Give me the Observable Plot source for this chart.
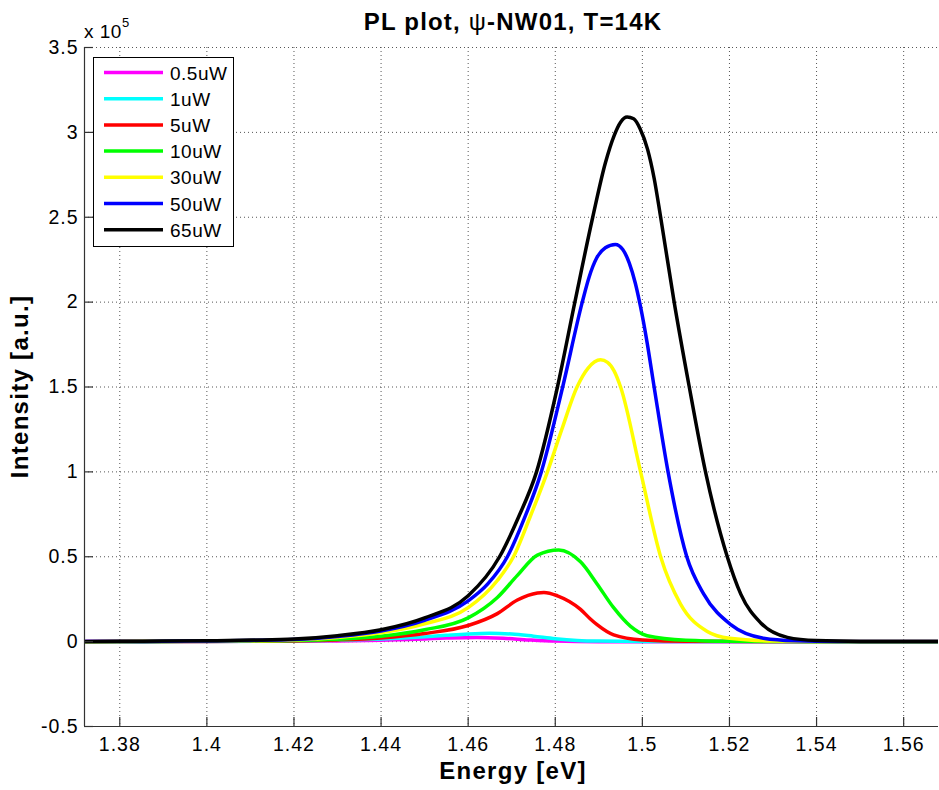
<!DOCTYPE html>
<html><head><meta charset="utf-8">
<script src="https://cdn.jsdelivr.net/npm/d3@7"></script>
<script src="https://cdn.jsdelivr.net/npm/@observablehq/plot@0.6"></script>
<style>
body{margin:0;background:#fff;}
#chart{position:relative;width:939px;height:790px;}
#chart svg text{font-family:"Liberation Sans",Arial,sans-serif;}
#chart g[aria-label="x-axis tick label"] text, #chart g[aria-label="y-axis tick label"] text{letter-spacing:1px;}
</style>
</head><body><div id="chart"></div>
<script>
// ---- data (intensity in units of 1e5 a.u.) ----
const seriesNames  = ["0.5uW","1uW","5uW","10uW","30uW","50uW","65uW"];
const seriesColors = ["#ff00ff","#00ffff","#ff0000","#00ff00","#ffff00","#0000ff","#000000"];

const E_0p5 = [1.372,1.42,1.43,1.44,1.45,1.455,1.462,1.468,1.474,1.48,1.49,1.568];
const I_0p5 = [0,0.002,0.004,0.008,0.016,0.021,0.025,0.02,0.01,0.003,0.0,0];

const E_1 = [1.372,1.40,1.42,1.43,1.44,1.45,1.455,1.46,1.465,1.47,1.475,1.48,1.485,1.49,1.50,1.568];
const I_1 = [0,0.001,0.004,0.008,0.015,0.028,0.037,0.045,0.049,0.045,0.032,0.017,0.007,0.003,0.001,0];

const E_5 = [1.372,1.40,1.41,1.42,1.43,1.44,1.45,1.46,1.4667,1.4713,1.4759,1.4774,1.4805,1.4858,1.488,1.4896,1.4934,1.50,1.51,1.568];
const I_5 = [0,0.001,0.002,0.004,0.01,0.022,0.048,0.095,0.165,0.245,0.287,0.29,0.27,0.19,0.135,0.10,0.04,0.01,0.002,0];

const E_10 = [1.372,1.39,1.40,1.41,1.42,1.43,1.44,1.45,1.46,1.4667,1.4713,1.4759,1.4808,1.4858,1.4896,1.4934,1.4973,1.5011,1.51,1.52,1.54,1.568];
const I_10 = [0,0.001,0.002,0.003,0.006,0.014,0.032,0.07,0.14,0.26,0.39,0.51,0.54,0.47,0.34,0.20,0.09,0.035,0.008,0.002,0,0];

const E_30 = [1.372,1.38,1.39,1.40,1.41,1.42,1.43,1.44,1.45,1.46,1.4667,1.4704,1.4743,1.4782,1.4815,1.485,1.4875,1.4904,1.492,1.4935,1.495,1.4996,1.5042,1.5088,1.5149,1.52,1.53,1.545,1.568];
const I_30 = [0,0.001,0.002,0.003,0.005,0.01,0.025,0.052,0.105,0.20,0.36,0.50,0.74,1.0,1.25,1.50,1.61,1.66,1.645,1.595,1.50,1.0,0.5,0.22,0.06,0.02,0.004,0.001,0];

const E_50 = [1.372,1.38,1.39,1.40,1.41,1.42,1.43,1.44,1.45,1.46,1.4645,1.469,1.4728,1.4768,1.4817,1.4862,1.4878,1.4895,1.4915,1.4938,1.4955,1.497,1.4984,1.4996,1.5011,1.5027,1.5059,1.5102,1.5141,1.5203,1.5278,1.535,1.545,1.568];
const I_50 = [0.001,0.001,0.002,0.004,0.007,0.012,0.03,0.062,0.125,0.24,0.34,0.50,0.72,1.0,1.5,2.0,2.15,2.26,2.32,2.34,2.31,2.23,2.11,1.97,1.76,1.5,1.0,0.5,0.28,0.10,0.02,0.005,0.001,0];

const E_65 = [1.372,1.38,1.39,1.40,1.41,1.42,1.43,1.44,1.45,1.46,1.4672,1.4715,1.4757,1.4805,1.4845,1.4886,1.4915,1.4935,1.495,1.4965,1.498,1.4995,1.5012,1.5027,1.5042,1.5073,1.5107,1.5145,1.5195,1.5226,1.5272,1.5333,1.54,1.55,1.568];
const I_65 = [0.001,0.002,0.003,0.005,0.009,0.015,0.035,0.07,0.14,0.27,0.50,0.73,1.0,1.5,2.0,2.5,2.82,2.98,3.06,3.09,3.08,3.02,2.90,2.73,2.5,2.0,1.51,1.0,0.5,0.28,0.11,0.025,0.006,0.001,0];

const seriesE = [E_0p5,E_1,E_5,E_10,E_30,E_50,E_65];
const seriesI = [I_0p5,I_1,I_5,I_10,I_30,I_50,I_65];

const xTicks = [1.38,1.40,1.42,1.44,1.46,1.48,1.50,1.52,1.54,1.56];
const yTicks = [-0.5,0,0.5,1,1.5,2,2.5,3,3.5];
const xDomain = [1.3719,1.568];
const yDomain = [-0.5,3.5];

// ---- layout ----
const W = 939, H = 790, mL = 84, mR = 1, mT = 47, mB = 64;
const pW = W - mL - mR, pH = H - mT - mB;
const FONT = '"Liberation Sans", Arial, sans-serif';

const rows = [];
seriesNames.forEach((name, k) => {
  seriesE[k].forEach((e, i) => rows.push({series: name, k, E: e, I: seriesI[k][i]}));
});

const lineMarks = seriesNames.map((name, k) =>
  Plot.line(rows.filter(d => d.k === k), {
    x: "E", y: "I", stroke: seriesColors[k], strokeWidth: 3.5,
    curve: "monotone-x", clip: true
  })
);

const gridStyle = {stroke: "#555", strokeOpacity: 1, strokeWidth: 1, strokeDasharray: "1,3"};

const svg = Plot.plot({
  width: W, height: H,
  marginLeft: mL, marginRight: mR, marginTop: mT, marginBottom: mB,
  style: {fontFamily: FONT, fontSize: "19px", background: "#fff", color: "#000", overflow: "visible"},
  x: {domain: xDomain},
  y: {domain: yDomain},
  marks: [
    Plot.gridX(xTicks, gridStyle),
    Plot.gridY(yTicks, gridStyle),
    ...lineMarks,
    Plot.ruleX([xDomain[0]], {stroke: "#333", strokeWidth: 1.2}),
    Plot.ruleY([yDomain[0]], {stroke: "#333", strokeWidth: 1.2}),
    Plot.tickX(xTicks, {x: d => d, insetTop: pH - 9, stroke: "#333", strokeWidth: 1.2}),
    Plot.tickY(yTicks, {y: d => d, insetRight: pW - 9, stroke: "#333", strokeWidth: 1.2}),
    Plot.axisX(xTicks, {tickSize: 0, tickPadding: 11, tickFormat: d => String(d), fontSize: 19.5, label: null}),
    Plot.axisY(yTicks, {tickSize: 0, tickPadding: 6, tickFormat: d => String(d), fontSize: 19.5, label: null})
  ]
});

document.getElementById("chart").appendChild(svg);

const s = d3.select(svg);
// title
const t = s.append("text").attr("x", 513).attr("y", 30).attr("text-anchor", "middle")
  .attr("font-size", 24).attr("font-weight", "bold").attr("letter-spacing", "1.2px").attr("fill", "#000");
t.append("tspan").text("PL plot, ");
t.append("tspan").attr("font-weight", "normal").text("ψ");
t.append("tspan").text("-NW01, T=14K");

// exponent
const ex = s.append("text").attr("x", 84).attr("y", 38).attr("text-anchor", "start")
  .attr("font-size", 19).attr("fill", "#000").attr("letter-spacing", "0.5px");
ex.append("tspan").text("x 10");
ex.append("tspan").attr("font-size", 13).attr("dy", -11).text("5");

// axis labels
s.append("text").attr("x", 513).attr("y", 779).attr("text-anchor", "middle")
  .attr("font-size", 24).attr("font-weight", "bold").attr("letter-spacing", "1.3px").attr("fill", "#000")
  .text("Energy [eV]");
s.append("text").attr("transform", "translate(28,386.5) rotate(-90)").attr("text-anchor", "middle")
  .attr("font-size", 24).attr("font-weight", "bold").attr("letter-spacing", "1.3px").attr("fill", "#000")
  .text("Intensity [a.u.]");

// legend
const lg = s.append("g");
lg.append("rect").attr("x", 93.5).attr("y", 57.5).attr("width", 140).attr("height", 189)
  .attr("fill", "#fff").attr("stroke", "#000").attr("stroke-width", 1);
seriesNames.forEach((name, k) => {
  const cy = 72.5 + k * 26.2;
  lg.append("line").attr("x1", 104).attr("x2", 163).attr("y1", cy).attr("y2", cy)
    .attr("stroke", seriesColors[k]).attr("stroke-width", 3.5);
  lg.append("text").attr("x", 170).attr("y", cy + 7).attr("text-anchor", "start")
    .attr("font-size", 19).attr("letter-spacing", "0.5px")
    .attr("fill", "#000").text(name);
});
</script>
</body></html>
